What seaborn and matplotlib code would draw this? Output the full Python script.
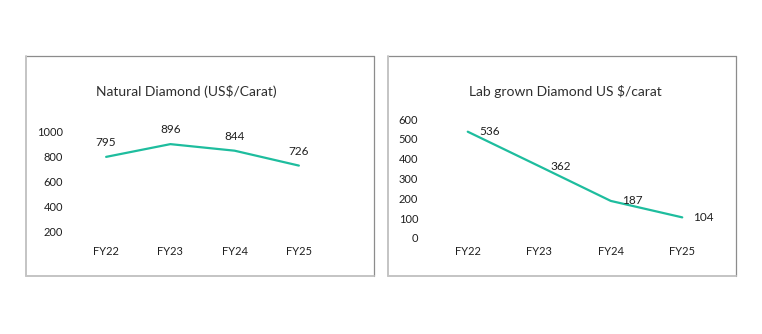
import matplotlib
matplotlib.use("Agg")
import matplotlib.pyplot as plt
from matplotlib.lines import Line2D
import seaborn as sns
import pandas as pd

years = ["FY22", "FY23", "FY24", "FY25"]
natural = [795, 896, 844, 726]
labgrown = [536, 362, 187, 104]
natural_title = r"Natural Diamond (US\$/Carat)"
lab_title = r"Lab grown Diamond US \$/carat"
natural_yticks = [200, 400, 600, 800, 1000]
lab_yticks = [0, 100, 200, 300, 400, 500, 600]

sns.set_theme(style="white")
plt.rcParams["font.family"] = ["Lato", "DejaVu Sans"]

LINE = "#1ebd9e"
TXT = "#1f1f1f"
W, H = 762, 334

fig = plt.figure(figsize=(W / 100, H / 100), dpi=100)
fig.patch.set_facecolor("white")


def fx(px):
    return px / W


def fy(py):
    return (H - py) / H


# panel borders: darker top/right, lighter thicker left/bottom
for x0, x1 in [(26, 374), (388, 736)]:
    y0, y1 = 56, 276
    fig.lines.append(Line2D([fx(x0), fx(x1)], [fy(y0), fy(y0)], transform=fig.transFigure,
                            color="#8c8c8c", linewidth=0.9))
    fig.lines.append(Line2D([fx(x1), fx(x1)], [fy(y0), fy(y1)], transform=fig.transFigure,
                            color="#8c8c8c", linewidth=0.9))
    fig.lines.append(Line2D([fx(x0), fx(x0)], [fy(y0), fy(y1)], transform=fig.transFigure,
                            color="#c4c4c4", linewidth=1.4))
    fig.lines.append(Line2D([fx(x0), fx(x1)], [fy(y1), fy(y1)], transform=fig.transFigure,
                            color="#c4c4c4", linewidth=1.4))

# left axes: x from 74 to 331, y from 131 (1000) to 232 (200)
axL = fig.add_axes([fx(74), fy(232), fx(331) - fx(74), fy(131) - fy(232)])
dfL = pd.DataFrame({"year": years, "value": natural})
sns.lineplot(data=dfL, x="year", y="value", ax=axL, color=LINE, linewidth=1.6, sort=False)
axL.set_xlim(-0.5, 3.5)
axL.set_ylim(200, 1000)
axL.set_yticks(natural_yticks)
for i, v in enumerate(natural):
    axL.annotate(str(v), (i, v), xytext=(0, 10.5), textcoords="offset points",
                 ha="center", va="center", fontsize=8.5, color=TXT)
axL.tick_params(axis="y", length=0, pad=8, labelsize=8, labelcolor=TXT)
axL.tick_params(axis="x", length=0, pad=10, labelsize=8, labelcolor=TXT)

# right axes: x from 432 to 718, y from 119 (600) to 238 (0)
axR = fig.add_axes([fx(432), fy(238), fx(718) - fx(432), fy(119) - fy(238)])
dfR = pd.DataFrame({"year": years, "value": labgrown})
sns.lineplot(data=dfR, x="year", y="value", ax=axR, color=LINE, linewidth=1.6, sort=False)
axR.set_xlim(-0.5, 3.5)
axR.set_ylim(0, 600)
axR.set_yticks(lab_yticks)
for i, v in enumerate(labgrown):
    axR.annotate(str(v), (i, v), xytext=(8, 0), textcoords="offset points",
                 ha="left", va="center", fontsize=8.5, color=TXT)
axR.tick_params(axis="y", length=0, pad=10, labelsize=8, labelcolor=TXT)
axR.tick_params(axis="x", length=0, pad=6, labelsize=8, labelcolor=TXT)

for ax in (axL, axR):
    ax.set_xlabel("")
    ax.set_ylabel("")
    ax.grid(False)
    ax.set_facecolor("none")
    for s in ax.spines.values():
        s.set_visible(False)

fig.text(fx(186), fy(91), natural_title, ha="center", va="center", fontsize=10, color="#2e2e2e")
fig.text(fx(565), fy(91), lab_title, ha="center", va="center", fontsize=10, color="#2e2e2e")

fig.savefig("out.png", dpi=100, facecolor="white")
